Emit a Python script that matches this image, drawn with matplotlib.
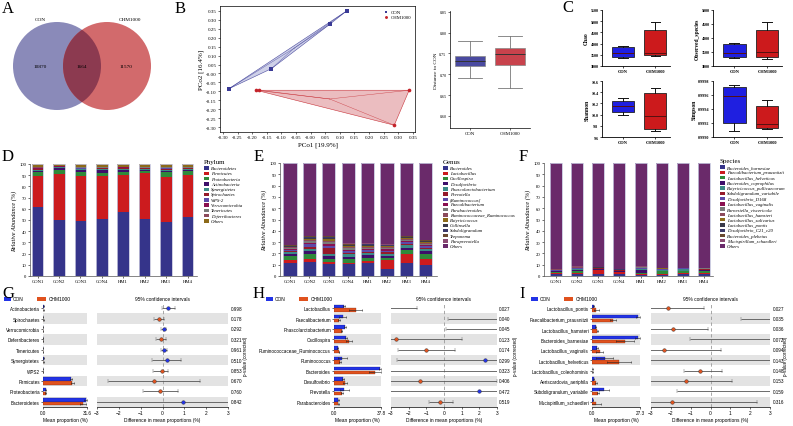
import numpy as np
import matplotlib
matplotlib.use('Agg')
import matplotlib.pyplot as plt
from matplotlib.patches import Circle, Rectangle, Polygon

W, H = 793, 427
SERIF = 'Liberation Serif'
SANS = 'Liberation Sans'

# ---- data -------------------------------------------------------------
venn_sets = ['CON', 'CHM1000']
venn_counts = [10870, 1664, 11570]

pcoa_con_x = [0.123, 0.065, -0.134, -0.28]
pcoa_con_y = [0.35, 0.275, 0.027, -0.086]
pcoa_chm_x = [-0.186, -0.176, 0.337, 0.286]
pcoa_chm_y = [-0.094, -0.094, -0.094, -0.29]

dist_con = dict(whislo=0.692, q1=0.721, med=0.731, q3=0.744, whishi=0.779)
dist_chm = dict(whislo=0.667, q1=0.723, med=0.749, q3=0.764, whishi=0.792)

chao_con = dict(whislo=3375, q1=3405, med=3600, q3=3853, whishi=3898)
chao_chm = dict(whislo=3450, q1=3480, med=3600, q3=4602, whishi=4946)
obs_con = dict(whislo=3300, q1=3335, med=3479, q3=3778, whishi=3838)
obs_chm = dict(whislo=3240, q1=3323, med=3515, q3=4281, whishi=4557)
shannon_con = dict(whislo=10.00, q1=10.044, med=10.15, q3=10.25, whishi=10.30)
shannon_chm = dict(whislo=9.705, q1=9.75, med=9.97, q3=10.38, whishi=10.48)
simpson_con = dict(whislo=0.99908, q1=0.9992, med=0.99959, q3=0.99972, whishi=0.99974)
simpson_chm = dict(whislo=0.99911, q1=0.99913, med=0.99918, q3=0.99945, whishi=0.99953)

samples = ['CON1', 'CON2', 'CON3', 'CON4', 'HM1', 'HM2', 'HM3', 'HM4']

phylum_names = ['Bacteroidetes', 'Firmicutes', 'Proteobacteria', 'Actinobacteria',
                'Synergistetes', 'Spirochaetes', 'WPS-2', 'Verrucomicrobia',
                'Tenericutes', 'Deferribacteres', 'Others']
phylum_values = [
    [61.5, 50.0, 48.7, 50.7, 56.7, 51.3, 47.8, 52.8],
    [27.5, 40.8, 40.5, 38.9, 33.4, 40.3, 40.9, 37.3],
    [3.5, 3.6, 3.6, 2.5, 2.8, 1.8, 4.0, 3.8],
    [1.0, 2.2, 2.2, 2.4, 2.0, 1.5, 1.2, 1.1],
    [1.0, 0.5, 0.4, 1.2, 0.6, 0.8, 0.9, 0.6],
    [0.6, 0.3, 0.5, 0.6, 0.5, 0.3, 0.8, 0.4],
    [0.4, 0.3, 0.4, 0.3, 0.5, 0.4, 0.5, 0.3],
    [0.5, 0.2, 0.3, 0.2, 0.4, 0.3, 0.4, 0.3],
    [0.5, 0.3, 0.6, 0.4, 0.3, 0.4, 0.5, 0.3],
    [0.5, 0.3, 0.4, 0.3, 0.3, 0.2, 0.5, 0.3],
    [3.0, 1.5, 2.4, 2.5, 2.5, 2.7, 2.5, 2.8],
]

genus_names = ['Bacteroides', 'Lactobacillus', 'Oscillospira', 'Desulfovibrio',
               'Phascolarctobacterium', 'Prevotella', '[Ruminococcus]', 'Faecalibacterium',
               'Parabacteroides', 'Ruminococcaceae_Ruminococcus', 'Butyricicoccus',
               'Collinsella', 'Subdoligranulum', 'Treponema', 'Paraprevotella', 'Others']
genus_values = [
    [11.3, 12.8, 10.4, 10.4, 11.3, 6.5, 11.9, 9.8],
    [2.9, 2.6, 2.1, 1.5, 2.1, 7.4, 7.4, 5.0],
    [3.6, 3.9, 2.9, 2.9, 2.9, 2.4, 3.5, 4.5],
    [1.5, 3.0, 2.0, 1.8, 2.0, 1.5, 2.2, 3.0],
    [2.0, 1.5, 2.5, 2.5, 1.8, 1.5, 2.0, 1.5],
    [1.0, 1.5, 5.0, 1.2, 1.5, 1.8, 1.2, 1.0],
    [1.0, 2.8, 2.0, 1.5, 1.2, 1.2, 1.5, 1.5],
    [0.8, 1.5, 1.8, 1.5, 1.2, 1.2, 1.2, 1.2],
    [0.8, 1.5, 1.5, 1.3, 1.0, 1.0, 1.0, 1.0],
    [0.6, 1.2, 1.2, 1.0, 1.0, 0.9, 1.0, 0.9],
    [0.4, 0.8, 1.0, 0.8, 0.8, 0.8, 0.8, 0.7],
    [0.4, 0.8, 1.0, 0.8, 0.7, 0.6, 0.7, 0.6],
    [0.4, 0.7, 0.9, 0.6, 0.6, 0.6, 0.5, 0.5],
    [0.3, 0.5, 0.7, 0.5, 0.5, 0.4, 0.4, 0.3],
    [0.3, 0.5, 0.6, 0.5, 0.5, 0.4, 0.3, 0.3],
    [72.7, 64.4, 64.4, 71.2, 70.9, 71.8, 64.4, 68.2],
]

species_names = ['Bacteroides_barnesiae', 'Faecalibacterium_prausnitzii',
                 'Lactobacillus_helveticus', 'Bacteroides_coprophilus',
                 'Butyricicoccus_pullicaecorum', 'Subdoligranulum_variabile',
                 'Desulfovibrio_D168', 'Lactobacillus_vaginalis', 'Barnesiella_viscericola',
                 'Lactobacillus_hamsteri', 'Lactobacillus_salivarius', 'Lactobacillus_pontis',
                 'Desulfovibrio_C21_c20', 'Bacteroides_plebeius', 'Mucispirillum_schaedleri',
                 'Others']
species_values = [
    [1.5, 1.8, 1.8, 1.8, 1.0, 0.8, 2.0, 1.5],
    [1.5, 1.2, 3.5, 1.8, 1.0, 1.2, 1.0, 1.2],
    [0.4, 1.5, 0.3, 0.3, 1.0, 2.0, 1.0, 1.5],
    [0.6, 0.6, 0.3, 0.4, 2.5, 0.6, 0.8, 0.8],
    [0.4, 0.8, 0.5, 0.3, 0.6, 0.6, 1.2, 0.6],
    [0.4, 0.5, 0.3, 0.3, 0.5, 0.4, 0.4, 0.4],
    [0.3, 0.4, 0.2, 0.2, 0.4, 0.3, 0.3, 0.3],
    [0.2, 0.3, 0.1, 0.1, 0.4, 0.3, 0.2, 0.2],
    [0.3, 0.3, 0.3, 0.2, 0.3, 0.2, 0.2, 0.2],
    [0.2, 0.3, 0.1, 0.1, 0.2, 0.2, 0.1, 0.1],
    [0.1, 0.2, 0.1, 0.1, 0.2, 0.1, 0.1, 0.1],
    [0.1, 0.2, 0.1, 0.1, 0.1, 0.1, 0.05, 0.05],
    [0.2, 0.2, 0.2, 0.1, 0.1, 0.1, 0.05, 0.02],
    [0.2, 0.1, 0.1, 0.1, 0.1, 0.05, 0.05, 0.02],
    [0.1, 0.1, 0.1, 0.1, 0.1, 0.05, 0.05, 0.01],
    [93.5, 91.5, 92.0, 94.0, 91.5, 93.0, 92.5, 93.0],
]

g_taxa = ['Actinobacteria', 'Spirochaetes', 'Verrucomicrobia', 'Deferribacteres',
          'Tenericutes', 'Synergistetes', 'WPS2', 'Firmicutes', 'Proteobacteria',
          'Bacteroidetes']
g_con_mean = [0.5, 0.2, 0.1, 0.1, 0.1, 0.5, 0.15, 20.3, 1.8, 30.6]
g_chm_mean = [0.3, 0.3, 0.05, 0.15, 0.05, 0.35, 0.2, 21.1, 1.9, 28.7]
g_con_err = [0.2, 0.1, 0.05, 0.05, 0.05, 0.2, 0.1, 0.8, 0.3, 1.0]
g_chm_err = [0.1, 0.1, 0.03, 0.05, 0.03, 0.2, 0.1, 0.9, 0.3, 2.3]
g_diff = [0.27, -0.14, 0.07, -0.08, 0.07, 0.19, -0.04, -0.39, -0.11, 0.95]
g_lo = [-0.04, -0.39, -0.05, -0.30, -0.07, -0.49, -0.42, -2.51, -0.90, -5.0]
g_hi = [0.58, 0.08, 0.14, 0.14, 0.19, 0.87, 0.27, 1.71, 0.69, 6.9]
g_p = ['0.998', '0.178', '0.292', '0.321', '0.961', '0.510', '0.853', '0.670', '0.760', '0.842']

h_taxa = ['Lactobacillus', 'Faecalibacterium', 'Phascolarctobacterium', 'Oscillospira',
          'Ruminococcaceae_Ruminococcus', 'Ruminococcus', 'Bacteroides', 'Desulfovibrio',
          'Prevotella', 'Parabacteroides']
h_con_mean = [8.0, 7.0, 8.8, 9.6, 2.9, 6.7, 37.0, 7.5, 8.3, 3.5]
h_chm_mean = [17.4, 4.0, 6.2, 12.1, 4.0, 4.8, 33.0, 8.8, 6.2, 3.5]
h_con_err = [1.0, 2.7, 0.5, 0.5, 0.3, 3.4, 0.8, 0.8, 3.8, 0.3]
h_chm_err = [5.4, 0.5, 0.5, 2.7, 0.3, 0.6, 4.8, 1.4, 0.8, 0.3]
h_diff = [-3.4, 3.5, 3.6, -2.73, -1.0, 2.33, 4.0, -1.38, 1.99, -0.2]
h_lo = [-5.27, 0.24, 0.12, -6.5, -2.58, -2.68, -4.0, -5.74, -3.21, -0.87]
h_hi = [-1.53, 6.76, 7.08, 1.04, 0.62, 7.34, 12.0, 2.98, 7.19, 0.52]
h_p = ['0.027', '0.040', '0.045', '0.123', '0.174', '0.299', '0.323', '0.406', '0.472', '0.519']

i_taxa = ['Lactobacillus_pontis', 'Faecalibacterium_prausnitzii', 'Lactobacillus_hamsteri',
          'Bacteroides_barnesiae', 'Lactobacillus_vaginalis', 'Lactobacillus_helveticus',
          'Lactobacillus_coleohominis', 'Aeriscardovia_aeriphila', 'Subdoligranulum_variabile',
          'Mucispirillum_schaedleri']
i_con_mean = [1.0, 26.3, 2.1, 26.0, 2.9, 7.3, 0.2, 1.0, 6.9, 0.4]
i_chm_mean = [2.5, 12.0, 3.1, 18.7, 4.4, 15.3, 0.2, 2.1, 3.4, 2.1]
i_con_err = [0.3, 1.0, 0.4, 1.3, 0.5, 4.8, 0.1, 0.3, 2.7, 0.1]
i_chm_err = [1.3, 1.9, 0.5, 5.3, 1.9, 6.9, 0.1, 0.5, 0.5, 3.2]
i_diff = [-2.13, 3.6, -1.88, 3.5, -2.33, -3.8, -0.54, -1.26, 3.4, -1.93]
i_lo = [-3.92, 1.52, -3.61, -1.02, -5.18, -10.1, -1.36, -3.58, -1.69, -6.22]
i_hi = [-0.34, 5.68, -0.15, 8.02, 0.52, 3.2, 0.59, 1.06, 8.5, 2.36]
i_p = ['0.027', '0.035', '0.036', '0.072', '0.094', '0.143', '0.148', '0.153', '0.159', '0.316']

# ---- colours ----------------------------------------------------------
stack_colors = ['#35348a', '#cc1b1e', '#2f8a3a', '#3e0f6a', '#3b8a86', '#951a2a',
                '#5c4aa8', '#8a1050', '#7a7a7a', '#8c4a5c', '#8c6a1a', '#3a3a4a',
                '#3c3a6a', '#6a4a30', '#8a4a72', '#6a2a6a']
phylum_colors = stack_colors[:10] + ['#8c6a1a']
CON_C = '#2233e6'
CHM_C = '#e0521e'

fig = plt.figure(figsize=(W / 100, H / 100), dpi=100)


def add_ax(x0, y0, x1, y1):
    return fig.add_axes([x0 / W, 1 - y1 / H, (x1 - x0) / W, (y1 - y0) / H])


def ftext(x, y, s, **kw):
    fig.text(x / W, 1 - y / H, s, **kw)


def frect(x, y, w, h, color):
    fig.add_artist(Rectangle((x / W, 1 - (y + h) / H), w / W, h / H,
                             transform=fig.transFigure, facecolor=color, edgecolor='none'))


def hull(xs, ys):
    pts = sorted(zip(xs, ys))
    def cross(o, a, b):
        return (a[0] - o[0]) * (b[1] - o[1]) - (a[1] - o[1]) * (b[0] - o[0])
    lower, upper = [], []
    for p in pts:
        while len(lower) >= 2 and cross(lower[-2], lower[-1], p) <= 0:
            lower.pop()
        lower.append(p)
    for p in reversed(pts):
        while len(upper) >= 2 and cross(upper[-2], upper[-1], p) <= 0:
            upper.pop()
        upper.append(p)
    return lower[:-1] + upper[:-1]


# panel letters
for letter, (lx, ly) in {'A': (8, 9), 'B': (180, 9), 'C': (568, 8), 'D': (8, 157),
                         'E': (259, 157), 'F': (523, 157), 'G': (8, 294),
                         'H': (259, 294), 'I': (522, 294)}.items():
    ftext(lx, ly, letter, fontsize=12, family=SERIF, ha='center', va='center')

# ---- A: venn ----------------------------------------------------------
ax = add_ax(0, 0, 175, 130)
ax.set_xlim(0, 175)
ax.set_ylim(130, 0)
ax.axis('off')
c1 = Circle((57, 67), 44, fc='#8a8ab9', ec='none')
c2 = Circle((107, 67), 44, fc='#d26a6c', ec='none')
ax.add_patch(c1)
ax.add_patch(c2)
c3 = Circle((107, 67), 44, fc='#8c3a50', ec='none')
ax.add_patch(c3)
c3.set_clip_path(c1)
ax.text(40, 20, venn_sets[0], fontsize=3.8, family=SERIF, ha='center', va='center')
ax.text(130, 20, venn_sets[1], fontsize=3.8, family=SERIF, ha='center', va='center')
for xpos, n in zip([40, 82, 126], venn_counts):
    ax.text(xpos, 67, str(n), fontsize=3.8, family=SERIF, ha='center', va='center')

# ---- B: PCoA ----------------------------------------------------------
ax = add_ax(220, 7, 415, 133)
groups = [(pcoa_con_x, pcoa_con_y, '#3a3a96', '#c9cbe6', 's', 'CON'),
          (pcoa_chm_x, pcoa_chm_y, '#c4232a', '#e9b6ba', 'o', 'CHM1000')]
for gx, gy, col, fill, mk, lab in groups:
    hp = hull(gx, gy)
    ax.add_patch(Polygon(hp, closed=True, fc=fill, ec=col, lw=0.4, alpha=0.9))
    cx, cy = np.mean(gx), np.mean(gy)
    for px, py in zip(gx, gy):
        ax.plot([cx, px], [cy, py], color=col, lw=0.3, alpha=0.8)
    ax.scatter(gx, gy, marker=mk, s=7, color=col, zorder=3, label=lab, linewidths=0)
ax.set_xlim(-0.31, 0.357)
ax.set_ylim(-0.328, 0.378)
ax.set_xticks(np.arange(-0.30, 0.351, 0.05))
ax.set_yticks(np.arange(-0.30, 0.351, 0.05))
ax.set_xticklabels(['%.2f' % v for v in np.arange(-0.30, 0.351, 0.05)], fontsize=3.6, family=SERIF)
ax.set_yticklabels(['%.2f' % v for v in np.arange(-0.30, 0.351, 0.05)], fontsize=3.6, family=SERIF)
ax.tick_params(length=1.5, width=0.4, pad=1)
for sp in ax.spines.values():
    sp.set_linewidth(0.5)
ax.set_xlabel('PCo1 [19.9%]', fontsize=5, family=SERIF, labelpad=1.5)
ax.set_ylabel('PCo2 [16.4%]', fontsize=5, family=SERIF, labelpad=1)
ax.legend(loc='upper right', frameon=False, prop={'family': SERIF, 'size': 3.5},
          handletextpad=0.1, borderpad=0.2, labelspacing=0.2, markerscale=0.8)

# distance box
ax = add_ax(450, 12, 530, 129)
bp = ax.bxp([dist_con, dist_chm], positions=[1, 2], widths=0.75, showfliers=False,
            patch_artist=True, capwidths=0.6,
            boxprops=dict(lw=0.5, ec='#888888'), whiskerprops=dict(lw=0.6, color='#777777'),
            capprops=dict(lw=0.6, color='#777777'), medianprops=dict(lw=0.7, color='#333333'))
for patch, col in zip(bp['boxes'], ['#4a4aa0', '#c8424c']):
    patch.set_facecolor(col)
ax.set_xlim(0.5, 2.5)
ax.set_ylim(0.571, 0.852)
ax.set_yticks([0.60, 0.65, 0.70, 0.75, 0.80, 0.85])
ax.set_yticklabels(['0.60', '0.65', '0.70', '0.75', '0.80', '0.85'], fontsize=3, family=SERIF)
ax.set_xticks([1, 2])
ax.set_xticklabels(['CON', 'CHM1000'], fontsize=3.5, family=SERIF)
ax.tick_params(length=1.5, width=0.4, pad=1)
ax.spines['top'].set_visible(False)
ax.spines['right'].set_visible(False)
for sp in ['left', 'bottom']:
    ax.spines[sp].set_linewidth(0.5)
ax.set_ylabel('Distance to CON', fontsize=3.8, family=SERIF, labelpad=1)

# ---- C: alpha diversity ----------------------------------------------
c_panels = [((602, 11, 670, 67), chao_con, chao_chm, (3000, 5500), np.arange(3000, 5501, 500), '%d', 'Chao'),
            ((713, 11, 782, 67), obs_con, obs_chm, (3000, 5000), np.arange(3000, 5001, 500), '%d', 'Observed_species'),
            ((602, 82, 670, 138), shannon_con, shannon_chm, (9.6, 10.6), np.arange(9.6, 10.61, 0.2), '%.1f', 'Shannon'),
            ((713, 82, 782, 138), simpson_con, simpson_chm, (0.999, 0.9998), np.arange(0.999, 0.99981, 0.0002), '%.4f', 'Simpson')]
for box, s_con, s_chm, lims, ticks, fmt, lab in c_panels:
    ax = add_ax(*box)
    bp = ax.bxp([s_con, s_chm], positions=[1, 2], widths=0.68, showfliers=False,
                patch_artist=True, capwidths=0.3,
                boxprops=dict(lw=0.6, ec='#222222'), whiskerprops=dict(lw=0.7, color='#111111'),
                capprops=dict(lw=0.7, color='#111111'), medianprops=dict(lw=0.7, color='#551111'))
    for patch, col in zip(bp['boxes'], ['#1f1fe0', '#cc1a1c']):
        patch.set_facecolor(col)
    ax.set_xlim(0.35, 2.45)
    ax.set_ylim(*lims)
    ax.set_yticks(ticks)
    ax.set_yticklabels([fmt % t for t in ticks], fontsize=3, family=SERIF, weight='bold')
    ax.set_xticks([1, 2])
    ax.set_xticklabels(['CON', 'CHM1000'], fontsize=3.2, family=SERIF, weight='bold')
    ax.tick_params(length=1.5, width=0.5, pad=1)
    ax.spines['top'].set_visible(False)
    ax.spines['right'].set_visible(False)
    for sp in ['left', 'bottom']:
        ax.spines[sp].set_linewidth(0.6)
    ax.set_ylabel(lab, fontsize=4, family=SERIF, weight='bold', labelpad=1)

# ---- D/E/F: stacked bars ---------------------------------------------
def stacked(box, values, colors, width, xl, names, title, lx, ly0, step):
    ax = add_ax(*box)
    x = np.arange(len(samples))
    bottom = np.zeros(len(samples))
    for vals, col in zip(values, colors):
        ax.bar(x, vals, width, bottom=bottom, color=col, edgecolor='none')
        bottom = bottom + np.array(vals)
    ax.bar(x, bottom, width, fill=False, edgecolor='#c4c4dc', lw=0.6)
    ax.set_xlim(*xl)
    ax.set_ylim(0, 100)
    ax.set_yticks(np.arange(0, 101, 10))
    ax.set_yticklabels([str(v) for v in range(0, 101, 10)], fontsize=3.4, family=SERIF)
    ax.set_xticks(x)
    ax.set_xticklabels(samples, fontsize=3.4, family=SERIF)
    ax.tick_params(length=1.5, width=0.4, pad=1)
    ax.spines['top'].set_visible(False)
    ax.spines['right'].set_visible(False)
    for sp in ['left', 'bottom']:
        ax.spines[sp].set_linewidth(0.5)
        ax.spines[sp].set_color('#555555')
    ax.set_ylabel('Relative Abundance (%)', fontsize=4.5, family=SERIF, style='italic', labelpad=2)
    ftext(lx, ly0 - 6, title, fontsize=5, family=SERIF, va='center')
    for i, (n, c) in enumerate(zip(names, colors)):
        y = ly0 + i * step
        frect(lx, y - 1.7, 4.5, 3.4, c)
        ftext(lx + 7, y, n, fontsize=3.4, family=SERIF, style='italic', va='center')


stacked((30, 165, 197, 277), phylum_values, phylum_colors, 0.54, (-0.35, 7.44),
        phylum_names, 'Phylum', 204, 169, 5.3)
stacked((280, 164, 437, 277), genus_values, stack_colors, 0.68, (-0.52, 7.58),
        genus_names, 'Genus', 443, 169, 5.2)
stacked((544, 164, 713, 277), species_values, stack_colors, 0.57, (-0.57, 7.43),
        species_names, 'Species', 720, 168, 5.27)

# ---- G/H/I: extended error bar plots ---------------------------------
def stamp(bbox, cbox, taxa, con_m, chm_m, con_e, chm_e, xmax, diff, lo, hi, pvals,
          leg_x, rot_x):
    y = np.arange(len(taxa))
    ax = add_ax(*bbox)
    for i in y[1::2]:
        ax.axhspan(i - 0.5, i + 0.5, color='#e3e3e3', lw=0, zorder=0)
    ekw = dict(lw=0.4, capsize=1.0, capthick=0.4, ecolor='#222222')
    ax.barh(y - 0.18, con_m, height=0.34, color=CON_C, edgecolor='#10106a', lw=0.2,
            xerr=con_e, error_kw=ekw, zorder=2)
    ax.barh(y + 0.18, chm_m, height=0.34, color=CHM_C, edgecolor='#6a200a', lw=0.2,
            xerr=chm_e, error_kw=ekw, zorder=2)
    ax.set_ylim(len(taxa) - 0.5, -0.5)
    ax.set_xlim(0, xmax)
    ax.set_xticks([0, xmax])
    ax.set_xticklabels(['0.0', str(xmax)], fontsize=3.3, family=SANS)
    ax.set_yticks(y)
    ax.set_yticklabels(taxa, fontsize=3.3, family=SANS)
    ax.tick_params(length=1.2, width=0.4, pad=1)
    for sp in ['top', 'right', 'left']:
        ax.spines[sp].set_visible(False)
    ax.spines['bottom'].set_linewidth(0.5)
    ax.set_xlabel('Mean proportion (%)', fontsize=3.5, family=SANS, labelpad=1.5)

    ax = add_ax(*cbox)
    for i in y[1::2]:
        ax.axhspan(i - 0.5, i + 0.5, color='#e3e3e3', lw=0, zorder=0)
    ax.axvline(0, color='#999999', lw=0.6, ls=(0, (4, 3)), zorder=1)
    for yi, d, l, h in zip(y, diff, lo, hi):
        col = CON_C if d > 0 else CHM_C
        ax.errorbar([d], [yi], xerr=[[d - l], [h - d]], fmt='o', ms=2.6, mfc=col,
                    mec='#333333', mew=0.3, ecolor='#555555', elinewidth=0.6,
                    capsize=1.2, capthick=0.5, zorder=3)
    ax.set_xlim(-3, 3)
    ax.set_ylim(len(taxa) - 0.5, -0.5)
    ax.set_xticks(range(-3, 4))
    ax.set_xticklabels(['\u22123', '\u22122', '\u22121', '0', '1', '2', '3'],
                       fontsize=3.5, family=SANS)
    ax.set_yticks([])
    ax.tick_params(length=1.2, width=0.4, pad=1)
    for sp in ['top', 'right', 'left']:
        ax.spines[sp].set_visible(False)
    ax.spines['bottom'].set_linewidth(0.5)
    ax.set_xlabel('Difference in mean proportions (%)', fontsize=3.5, family=SANS, labelpad=1.5)
    ax.set_title('95% confidence intervals', fontsize=3.5, family=SANS, pad=2)
    for yi, p in zip(y, pvals):
        ax.text(1.02, yi, p, transform=ax.get_yaxis_transform(), fontsize=3.3,
                family=SANS, va='center')
    ftext(rot_x, 356, 'p-value (corrected)', fontsize=3.3, family=SANS, rotation=90,
          ha='center', va='center')
    # legend
    frect(leg_x, 298, 7, 4, CON_C)
    ftext(leg_x + 9, 300, 'CON', fontsize=3.5, family=SANS, va='center')
    frect(leg_x + 33, 298, 9, 4, CHM_C)
    ftext(leg_x + 45, 300, 'CHM1000', fontsize=3.5, family=SANS, va='center')


stamp((43, 304, 87, 408), (97, 304, 228, 408), g_taxa, g_con_mean, g_chm_mean,
      g_con_err, g_chm_err, 31.6, g_diff, g_lo, g_hi, g_p, 4, 246)
stamp((334, 304, 381, 408), (391, 304, 497, 408), h_taxa, h_con_mean, h_chm_mean,
      h_con_err, h_chm_err, 37.8, h_diff, h_lo, h_hi, h_p, 266, 515)
stamp((592, 304, 640, 408), (651, 304, 770, 408), i_taxa, i_con_mean, i_chm_mean,
      i_con_err, i_chm_err, 27.3, i_diff, i_lo, i_hi, i_p, 531, 785)

fig.savefig('out.png', dpi=100)
